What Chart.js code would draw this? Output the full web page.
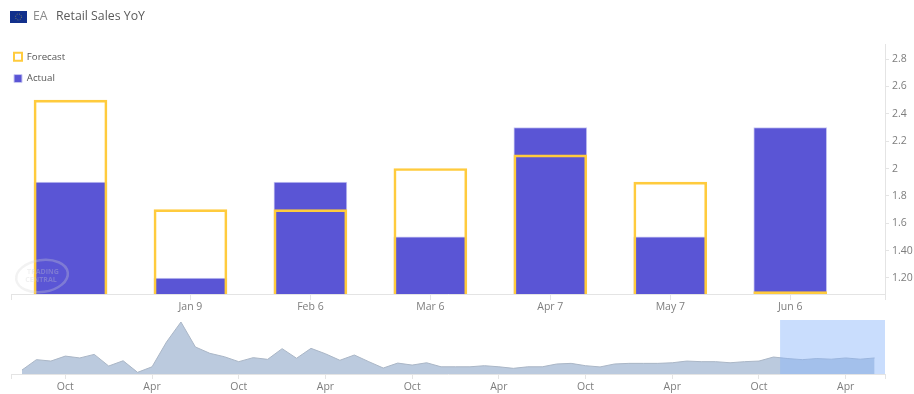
<!DOCTYPE html>
<html><head><meta charset="utf-8">
<script src="https://cdn.jsdelivr.net/npm/chart.js@4"></script>
<style>
html,body{margin:0;padding:0;background:#fff;width:914px;height:394px;overflow:hidden;font-family:"Open Sans",sans-serif}
canvas{position:absolute;left:0}
#main{top:0}#nav{top:320px}
.t{position:absolute;top:6px;font-size:12.3px;line-height:20px;white-space:nowrap}
#wm{position:absolute;left:12px;top:255px;pointer-events:none}
#flag{position:absolute;left:10px;top:11px}
</style></head><body>
<canvas id="main" width="914" height="320"></canvas>
<canvas id="nav" width="914" height="74"></canvas>
<svg id="flag" width="17" height="12"><rect width="17" height="12" fill="#12308c"/><circle cx="8.5" cy="6" r="3" fill="none" stroke="#c9b44a" stroke-width=".7" stroke-dasharray=".8 1.6"/></svg>
<div class="t" style="left:33px;color:#8a8a8a">EA</div>
<div class="t" style="left:56px;color:#5a5a5a">Retail Sales YoY</div>
<svg id="wm" width="60" height="42" opacity=".3"><ellipse cx="30" cy="21" rx="26" ry="16" fill="none" stroke="#d5d5d5" stroke-width="2.5" transform="rotate(-8 30 21)"/><text x="31" y="19" text-anchor="middle" font-size="7" font-weight="700" fill="#cfcfcf" font-family="Open Sans">TRADING</text><text x="29" y="27" text-anchor="middle" font-size="7" font-weight="700" fill="#cfcfcf" font-family="Open Sans">CENTRAL</text></svg>
<script>
const barIndex=[0,1,2,3,4,5,6];
const barLabels=['','Jan 9','Feb 6','Mar 6','Apr 7','May 7','Jun 6'];
const forecast=[2.5,1.7,1.7,2.0,2.1,1.9,1.1];
const actual=[1.9,1.2,1.9,1.5,2.3,1.5,2.3];
const yTicks=[1.2,1.4,1.6,1.8,2,2.2,2.4,2.6,2.8];
const yTickLabels=['1.20','1.40','1.6','1.8','2','2.2','2.4','2.6','2.8'];
const history=[-5.5,1.2,0.3,3.5,2.3,4.6,-2.9,0.5,-7.0,-3.4,12.6,25.5,9.4,5.3,3.1,-0.1,2.5,1.4,8.3,2.1,8.5,5.0,0.8,4.2,-0.1,-4.2,-1.0,-2.3,-0.8,-3.4,-3.4,-3.4,-2.7,-3.4,-4.4,-3.4,-3.4,-1.6,-1.2,-2.7,-3.5,-1.6,-1.2,-1.2,-1.2,-0.8,0.3,-0.1,-0.1,-0.8,-0.1,0.3,2.9,1.9,1.2,1.9,1.5,2.3,1.5,2.3];
const navTickIndex=[3,9,15,21,27,33,39,45,51,57];
const navTickLabels=['Oct','Apr','Oct','Apr','Oct','Apr','Oct','Apr','Oct','Apr'];
const selection=[52.46,59.72];

const gray='#7d7d7d', line='#e4e4e4';
const font={family:'"Open Sans"',size:10.5};
Chart.defaults.animation=false;
Chart.defaults.font.family='"Open Sans"';

const placeLegend={id:'placeLegend',afterLayout(c){c.legend.left=2;c.legend.top=40;}};
new Chart(document.getElementById('main'),{
 type:'bar',
 plugins:[placeLegend],
 data:{datasets:[
  {label:'Forecast',order:0,data:barIndex.map((x,i)=>({x,y:forecast[i]})),backgroundColor:'rgba(255,255,255,0)',borderColor:'#ffcb3d',borderWidth:2,borderSkipped:false,barThickness:73,grouped:false},
  {label:'Actual',order:1,data:barIndex.map((x,i)=>({x,y:actual[i]})),backgroundColor:'#5a55d5',borderColor:'#c9c8f2',borderWidth:1,borderSkipped:false,barThickness:73,grouped:false}
 ]},
 options:{responsive:false,maintainAspectRatio:false,
  layout:{padding:{left:11,top:44,right:0,bottom:0}},
  plugins:{tooltip:{enabled:false},
   legend:{position:'chartArea',align:'start',labels:{boxWidth:8,boxHeight:8,padding:12,color:'#555',font:{family:'"Open Sans"',size:9.7}}}},
  scales:{
   x:{type:'linear',offset:false,min:-0.496,max:6.79,
    afterBuildTicks:s=>{s.ticks=[{value:s.min},...barIndex.slice(1).map(v=>({value:v})),{value:s.max}]},
    afterFit:s=>{s.height=26},
    ticks:{autoSkip:false,maxRotation:0,padding:1,color:gray,font,callback:v=>{const i=barIndex.indexOf(v);return i<0?'':barLabels[i]}},
    grid:{offset:false,drawOnChartArea:false,drawTicks:true,tickLength:6,color:line},border:{color:line}},
   y:{type:'linear',position:'right',min:1.083,max:2.91,
    afterBuildTicks:s=>{s.ticks=yTicks.map(v=>({value:v}))},
    afterFit:s=>{s.width=29},
    ticks:{autoSkip:false,padding:3,color:gray,font,callback:v=>yTickLabels[yTicks.indexOf(v)]},
    grid:{drawOnChartArea:false,drawTicks:true,tickLength:4,color:line},border:{color:line}}
  }}
});

const band={id:'band',afterDatasetsDraw(c){
  const x=c.scales.x,a=c.chartArea,g=c.ctx;
  const l=x.getPixelForValue(selection[0]),r=x.getPixelForValue(selection[1]);
  g.save();g.fillStyle='rgba(135,180,250,0.45)';g.fillRect(l,0,r-l,a.bottom);g.restore();
}};
new Chart(document.getElementById('nav'),{
 type:'line',
 data:{datasets:[{data:history.map((y,x)=>({x,y})),fill:'start',backgroundColor:'#bbcade',borderColor:'#aab6c6',borderWidth:1,pointRadius:0,tension:0}]},
 plugins:[band],
 options:{responsive:false,maintainAspectRatio:false,
  layout:{padding:{left:11,top:0,right:29,bottom:0}},
  plugins:{legend:{display:false},tooltip:{enabled:false}},
  scales:{
   x:{type:'linear',min:-0.76,max:59.72,
    afterBuildTicks:s=>{s.ticks=[{value:s.min},...navTickIndex.map(v=>({value:v})),{value:s.max}]},
    afterFit:s=>{s.height=20},
    ticks:{autoSkip:false,maxRotation:0,padding:2,color:gray,font,callback:v=>{const i=navTickIndex.indexOf(v);return i<0?'':navTickLabels[i]}},
    grid:{drawOnChartArea:false,drawTicks:true,tickLength:5,color:line},border:{color:line}},
   y:{display:false,min:-8.06,max:26.8}
  }}
});
</script>
</body></html>
